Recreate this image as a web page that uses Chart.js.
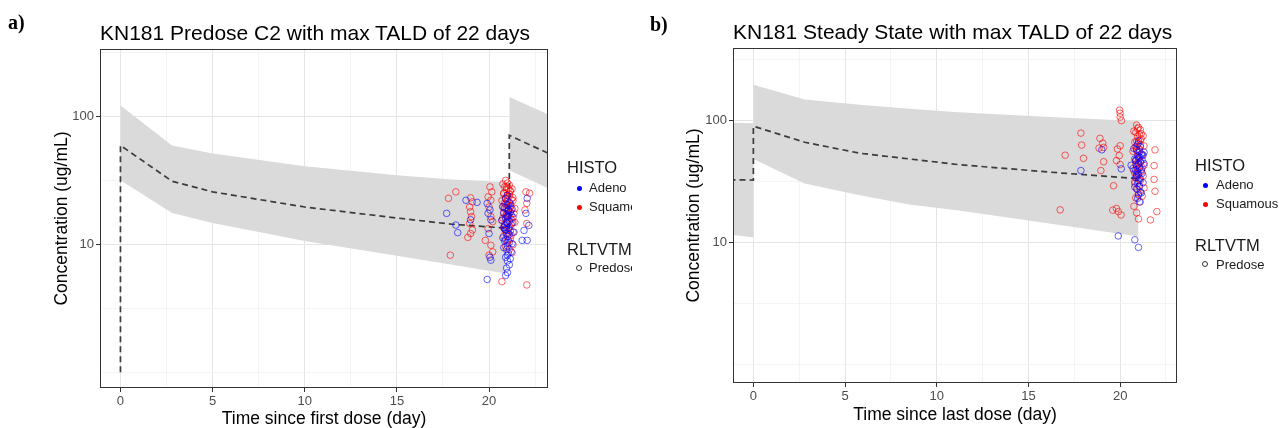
<!DOCTYPE html>
<html><head><meta charset="utf-8">
<script src="https://cdn.jsdelivr.net/npm/chart.js@4.4.1/dist/chart.umd.min.js"></script>
<style>
html,body{margin:0;padding:0;background:#fff}
body{width:1279px;height:428px;position:relative;overflow:hidden;font-family:"Liberation Sans",Arial,sans-serif;color:#1a1a1a}
canvas{position:absolute;top:0}
.plab{position:absolute;font-family:"Liberation Serif","Times New Roman",serif;font-weight:bold;font-size:20px;line-height:20px;color:#000}
.ttl{position:absolute;font-size:21px;line-height:22px;white-space:nowrap;color:#000}
.leg{position:absolute;overflow:hidden;white-space:nowrap}
.lt{position:absolute;font-size:16.5px;line-height:18px}
.li{position:absolute;font-size:13px;line-height:14px;color:#1a1a1a}
.dot{position:absolute;width:5px;height:5px;border-radius:50%}
.ring{position:absolute;width:4px;height:4px;border-radius:50%;border:1px solid #333;box-sizing:content-box}
</style>
</head><body>
<canvas id="ca" width="640" height="428" style="left:0;width:640px;height:428px"></canvas>
<canvas id="cb" width="639" height="428" style="left:640px;width:639px;height:428px"></canvas>

<div class="plab" style="left:8px;top:12px">a)</div>
<div class="plab" style="left:650px;top:14px">b)</div>
<div class="ttl" style="left:100px;top:22px">KN181 Predose C2 with max TALD of 22 days</div>
<div class="ttl" style="left:733px;top:21px">KN181 Steady State with max TALD of 22 days</div>

<div class="leg" style="left:560px;top:150px;width:72px;height:135px">
  <div class="lt" style="left:7px;top:8px">HISTO</div>
  <div class="dot" style="left:17px;top:36px;background:#0000ff"></div>
  <div class="li" style="left:29px;top:31px">Adeno</div>
  <div class="dot" style="left:17px;top:55px;background:#ff0000"></div>
  <div class="li" style="left:29px;top:50px">Squamous</div>
  <div class="lt" style="left:7px;top:90px">RLTVTM</div>
  <div class="ring" style="left:16px;top:115px"></div>
  <div class="li" style="left:29px;top:111px">Predose</div>
</div>
<div class="leg" style="left:1188px;top:148px;width:91px;height:135px">
  <div class="lt" style="left:7px;top:8px">HISTO</div>
  <div class="dot" style="left:15px;top:35px;background:#0000ff"></div>
  <div class="li" style="left:28px;top:30px">Adeno</div>
  <div class="dot" style="left:15px;top:54px;background:#ff0000"></div>
  <div class="li" style="left:28px;top:49px">Squamous</div>
  <div class="lt" style="left:7px;top:88px">RLTVTM</div>
  <div class="ring" style="left:14px;top:113px"></div>
  <div class="li" style="left:28px;top:110px">Predose</div>
</div>

<script>
// ---------- tick definitions ----------
const xTickValues = [0, 2.5, 5, 7.5, 10, 12.5, 15, 17.5, 20, 22.5];
const xTickLabels = {0: '0', 5: '5', 10: '10', 15: '15', 20: '20'};
const yTickValues = [1, 3.1623, 10, 31.623, 100, 316.23];
const yTickLabels = {10: '10', 100: '100'};

// ---------- Panel a : prediction band / median ----------
const bandA1X     = [0, 2.8, 5, 10, 15, 18, 20.9];
const bandA1Upper = [121, 59, 51, 40.5, 34.5, 32, 30.5];
const bandA1Lower = [31.6, 17.5, 14.6, 10.6, 8.1, 6.9, 5.9];
const bandA2X     = [21.1, 23.5];
const bandA2Upper = [141, 99];
const bandA2Lower = [37.8, 26.1];
const medianAX    = [0, 0, 2.8, 5, 10, 15, 18, 21.1, 21.1, 23.5];
const medianAY    = [1, 59, 31, 25.6, 19.5, 16, 14.3, 13.3, 70.8, 49];

// ---------- Panel a : observations ----------
const obsARedX = [17.8, 18.2, 17.9, 19.0, 19.1, 18.95, 19.0, 19.05, 18.95, 19.0, 18.85, 19.1,
  20.05, 20.15, 19.95, 20.1, 20.0, 20.1, 20.2, 19.95, 19.8, 20.1, 20.2, 20.0, 20.7,
  22.0, 22.2, 22.05, 21.95, 22.05, 22.05, 21.4, 21.4,
  20.9, 21.0, 21.1, 20.85, 21.05, 20.95, 21.15, 20.8, 21.0, 21.1, 20.9, 21.2, 21.0, 20.85, 21.05, 21.15,
  20.95, 21.0, 20.8, 21.1, 20.9, 21.2, 21.0, 20.85, 21.1, 20.95, 21.05, 20.8, 21.15, 21.0, 20.9, 21.1,
  21.25, 20.95, 21.1, 20.9, 21.2, 21.0, 20.9, 21.05, 21.3, 21.3, 20.75,
  20.75, 21.25, 20.8, 21.3, 20.7, 21.2, 20.85, 21.35, 20.75, 21.25, 20.8, 21.3, 21.15, 20.9, 21.05, 21.2, 20.7, 21.3];
const obsARedY = [22.8, 25.6, 8.2, 23, 21.4, 19.5, 17.9, 16.4, 14.5, 12.1, 11.3, 12.9,
  28, 25.6, 23.4, 22, 19.5, 16.4, 15, 13.2, 10.7, 9.8, 8.7, 8.2, 5.1,
  25.6, 25, 20.8, 18.5, 14.5, 4.8, 19, 14.8,
  31.5, 30, 29, 28, 27.2, 26.5, 25.8, 25, 24.2, 23.6, 23, 22.3, 21.6, 21, 20.3, 19.6,
  19, 18.2, 17.6, 17, 16.3, 15.7, 15, 14.3, 13.6, 13, 12.2, 11.6, 11, 10.3, 9.6, 9.1,
  8.6, 27.8, 24.6, 20.6, 18.6, 16.7, 12.7, 10.8, 14.8, 22, 19.4,
  29.5, 27, 24.8, 23.1, 21.9, 20, 18.9, 17.3, 16, 14.6, 13.4, 12.4, 26.2, 22.8, 17.3, 11.7, 15.3, 9.9];
const obsABlueX = [18.75, 19.35, 19.0, 17.7, 18.2, 18.3,
  19.9, 20.05, 19.95, 20.1, 20.0, 20.05, 20.1, 19.9,
  22.07, 22.0, 21.9, 21.8, 22.07, 22.16,
  21.0, 20.9, 21.1, 21.0, 20.85, 21.05, 21.15, 20.95, 21.0, 20.9, 21.1, 21.0, 20.85, 21.05, 21.15, 20.95,
  21.0, 20.9, 21.1, 21.0, 20.95, 21.05, 20.9, 21.0, 21.1, 20.95, 21.0, 20.9, 21.05, 20.95, 21.1, 20.85,
  21.2, 20.8, 21.0, 21.15,
  20.75, 21.25, 20.8, 21.3, 20.7, 21.2, 20.85, 21.35, 20.75, 21.25, 20.8, 21.2, 21.05, 20.9, 21.15];
const obsABlueY = [22, 21.2, 15.5, 17.4, 14.1, 12.3,
  20.8, 18.5, 17.4, 15.5, 12.1, 7.9, 7.5, 5.3,
  22.8, 17.4, 12.8, 10.7, 10.7, 14,
  24, 22.6, 21.2, 20.1, 19.3, 18.5, 17.8, 17.1, 16.4, 15.8, 15.1, 14.5, 13.9, 13.3, 12.7, 12.1,
  11.5, 10.9, 10.3, 9.7, 9.1, 8.5, 7.9, 7.4, 6.9, 6.5, 6.0, 5.7, 18.1, 14.8, 11.9, 10.6,
  16.9, 13.5, 8.2, 20.6,
  19.7, 18.8, 17.5, 16.2, 15.4, 14.2, 13.1, 12.4, 11.2, 10.1, 9.4, 8.7, 16.6, 13.0, 7.7];

// ---------- Panel b : prediction band / median ----------
const bandB0X     = [-1.3, 0];
const bandB0Upper = [96.5, 95];
const bandB0Lower = [11.6, 11];
const bandB1X     = [0, 2.8, 5.8, 8.5, 11.2, 16.7, 21];
const bandB1Upper = [197, 149, 135, 125, 117, 106, 99.5];
const bandB1Lower = [48.4, 30.4, 24.4, 20.5, 18.3, 13.9, 11.2];
const medianBX    = [-1.3, 0, 0, 2.8, 5.8, 11.2, 16.7, 21];
const medianBY    = [32.7, 32.5, 90, 66.5, 54, 43.5, 37.2, 33.4];

// ---------- Panel b : observations ----------
const obsBRedX = [19.97, 20.0, 20.0, 20.07, 17.86, 17.9, 17.0, 18.0,
  18.9, 19.05, 18.85, 19.1, 19.1, 18.95, 20.0, 19.85, 19.95, 19.8, 20.0, 19.64,
  19.8, 19.6, 20.05, 19.9, 16.73, 21.9, 21.85, 21.85, 21.9, 22.0, 21.65,
  20.9, 21.0, 21.1, 20.85, 21.05, 20.95, 21.15, 20.9, 21.0, 21.1, 20.85, 21.05, 20.95, 21.2, 21.0,
  20.9, 21.1, 20.85, 21.05, 20.95, 21.15, 21.0, 20.9, 21.1, 20.8, 21.05, 20.95, 21.0, 20.85, 21.1,
  20.9, 21.0, 20.75, 21.2, 20.95, 21.1, 20.9, 21.0, 20.8,
  20.75, 21.25, 20.8, 21.3, 20.7, 21.2, 20.85, 21.3, 20.75, 21.25, 20.8, 21.3, 21.15, 20.9, 21.05, 21.2];
const obsBRedY = [122, 115, 107, 100, 79, 63, 52, 49,
  71.5, 65.3, 59.5, 60.3, 46, 38.9, 62.2, 58.5, 51.6, 47, 43.6, 29.2,
  19, 18.4, 16.8, 17.9, 18.5, 57.5, 42.7, 32.9, 26.3, 17.9, 15.3,
  92, 88, 84, 80, 77, 74, 71, 68, 65.5, 63, 60.5, 58, 55.5, 53, 50.5,
  48, 46, 44, 42, 40, 38, 36, 34, 32.2, 30.5, 28.8, 27, 25, 23.2, 21.5,
  17.5, 15.6, 19.8, 41, 86, 69, 57, 45, 37,
  82, 75, 66.5, 62, 56, 51.5, 47, 43, 39, 35, 31.5, 28, 78, 61.5, 33, 24];
const obsBBlueX = [19.0, 17.86, 20.06, 19.9, 20.8, 21.0,
  21.0, 20.95, 21.1, 20.9, 21.05, 21.15, 20.95, 21.0, 20.85, 21.1, 21.0, 20.9, 21.05, 21.15, 20.95,
  21.0, 20.9, 21.1, 21.0, 20.95, 21.05, 20.9, 21.1, 21.0, 20.95, 21.05, 21.3, 20.6, 21.2, 20.85,
  20.75, 21.25, 20.8, 21.3, 20.7, 21.2, 20.85, 21.25, 20.8, 21.15, 21.05, 20.9];
const obsBBlueY = [57.6, 38.9, 40.2, 11.3, 10.5, 9.1,
  68, 64, 61, 58, 55.5, 53, 51, 49, 47, 45.5, 44, 42.5, 41, 39.5, 38,
  36.5, 35, 33.5, 32, 30.5, 29, 27.5, 26, 24.5, 23, 21.5, 55, 43, 47.5, 39,
  59, 52, 48.5, 44.5, 40.5, 37, 34, 31, 28.5, 25.5, 50, 36];

// ---------- helpers ----------
const zip = (xs, ys) => xs.map((x, i) => ({x: x, y: ys[i]}));
const BAND = '#dadada';
const FONT = '"Liberation Sans", Arial, sans-serif';

function bandSets(xs, lo, hi) {
  return [
    {type: 'line', data: zip(xs, lo), borderWidth: 0, borderColor: 'rgba(0,0,0,0)', pointRadius: 0, fill: false, tension: 0},
    {type: 'line', data: zip(xs, hi), borderWidth: 0, borderColor: 'rgba(0,0,0,0)', pointRadius: 0, fill: '-1', backgroundColor: BAND, tension: 0}
  ];
}
function obsSet(xs, ys, col) {
  return {type: 'scatter', data: zip(xs, ys), showLine: false, pointStyle: 'circle', pointRadius: 3.3,
    pointBorderWidth: 1, borderColor: col, backgroundColor: 'rgba(0,0,0,0)', pointBackgroundColor: 'rgba(0,0,0,0)', pointBorderColor: col};
}
function medianSet(xs, ys) {
  return {type: 'line', data: zip(xs, ys), borderColor: '#3c3c3c', borderWidth: 1.7, borderDash: [6, 4],
    pointRadius: 0, fill: false, tension: 0};
}

const frame = {
  id: 'frame',
  afterDatasetsDraw(chart) {
    const a = chart.chartArea, c = chart.ctx;
    c.save();
    c.strokeStyle = '#333';
    c.lineWidth = 1;
    c.strokeRect(Math.round(a.left) + 0.5, Math.round(a.top) + 0.5, Math.round(a.right - a.left) - 1, Math.round(a.bottom - a.top) - 1);
    c.restore();
  }
};

function makeChart(id, cfg) {
  const datasets = [
    obsSet(cfg.blueX, cfg.blueY, 'rgba(0,0,255,0.6)'),
    obsSet(cfg.redX, cfg.redY, 'rgba(255,0,0,0.6)'),
    medianSet(cfg.medX, cfg.medY)
  ];
  cfg.bands.forEach(b => datasets.push(...bandSets(b[0], b[1], b[2])));
  return new Chart(document.getElementById(id), {
    type: 'scatter',
    data: {datasets: datasets},
    plugins: [frame],
    options: {
      responsive: false, animation: false, devicePixelRatio: 1,
      layout: {padding: {left: 0, top: cfg.top, right: cfg.right, bottom: 0}},
      plugins: {legend: {display: false}, tooltip: {enabled: false}, title: {display: false}},
      scales: {
        x: {
          type: 'linear', min: cfg.xmin, max: cfg.xmax,
          afterBuildTicks: s => { s.ticks = xTickValues.map(v => ({value: v})); },
          afterFit: s => { s.height = cfg.xh; },
          ticks: {autoSkip: false, maxRotation: 0, padding: 2, color: '#4d4d4d', font: {family: FONT, size: 13},
            callback: v => (xTickLabels[v] !== undefined ? xTickLabels[v] : '')},
          grid: {drawTicks: true, tickLength: 4,
            color: c => (c.tick && xTickLabels[c.tick.value] !== undefined) ? '#e4e4e4' : '#f1f1f1',
            lineWidth: c => (c.tick && xTickLabels[c.tick.value] !== undefined) ? 1 : 0.8,
            tickColor: c => (c.tick && xTickLabels[c.tick.value] !== undefined) ? '#333' : 'rgba(0,0,0,0)'},
          border: {display: false},
          title: {display: true, text: cfg.xtitle, color: '#000', font: {family: FONT, size: 17.5, lineHeight: 1}, padding: {top: 0, bottom: cfg.xtp}}
        },
        y: {
          type: 'logarithmic', min: cfg.ymin, max: cfg.ymax,
          afterBuildTicks: s => { s.ticks = yTickValues.map(v => ({value: v})); },
          afterFit: s => { s.width = cfg.yw; },
          ticks: {autoSkip: false, padding: 2, color: '#4d4d4d', font: {family: FONT, size: 13},
            callback: v => (yTickLabels[v] !== undefined ? yTickLabels[v] : '')},
          grid: {drawTicks: true, tickLength: 4,
            color: c => (c.tick && yTickLabels[c.tick.value] !== undefined) ? '#e4e4e4' : '#f1f1f1',
            lineWidth: c => (c.tick && yTickLabels[c.tick.value] !== undefined) ? 1 : 0.8,
            tickColor: c => (c.tick && yTickLabels[c.tick.value] !== undefined) ? '#333' : 'rgba(0,0,0,0)'},
          border: {display: false},
          title: {display: true, text: 'Concentration (ug/mL)', color: '#000', font: {family: FONT, size: 17.5, lineHeight: 1}, padding: {top: cfg.ytp, bottom: 0}}
        }
      }
    }
  });
}

makeChart('ca', {
  redX: obsARedX, redY: obsARedY, blueX: obsABlueX, blueY: obsABlueY,
  medX: medianAX, medY: medianAY,
  bands: [[bandA1X, bandA1Lower, bandA1Upper], [bandA2X, bandA2Lower, bandA2Upper]],
  top: 49, right: 92, xh: 40, yw: 100, xtp: 0, ytp: 53,
  xmin: -1.11, xmax: 23.2, ymin: 0.753, ymax: 334,
  xtitle: 'Time since first dose (day)'
});
makeChart('cb', {
  redX: obsBRedX, redY: obsBRedY, blueX: obsBBlueX, blueY: obsBBlueY,
  medX: medianBX, medY: medianBY,
  bands: [[bandB0X, bandB0Lower, bandB0Upper], [bandB1X, bandB1Lower, bandB1Upper]],
  top: 48, right: 102, xh: 45, yw: 93, xtp: 4, ytp: 45,
  xmin: -1.11, xmax: 23.1, ymin: 0.745, ymax: 395,
  xtitle: 'Time since last dose (day)'
});
</script>
</body></html>
